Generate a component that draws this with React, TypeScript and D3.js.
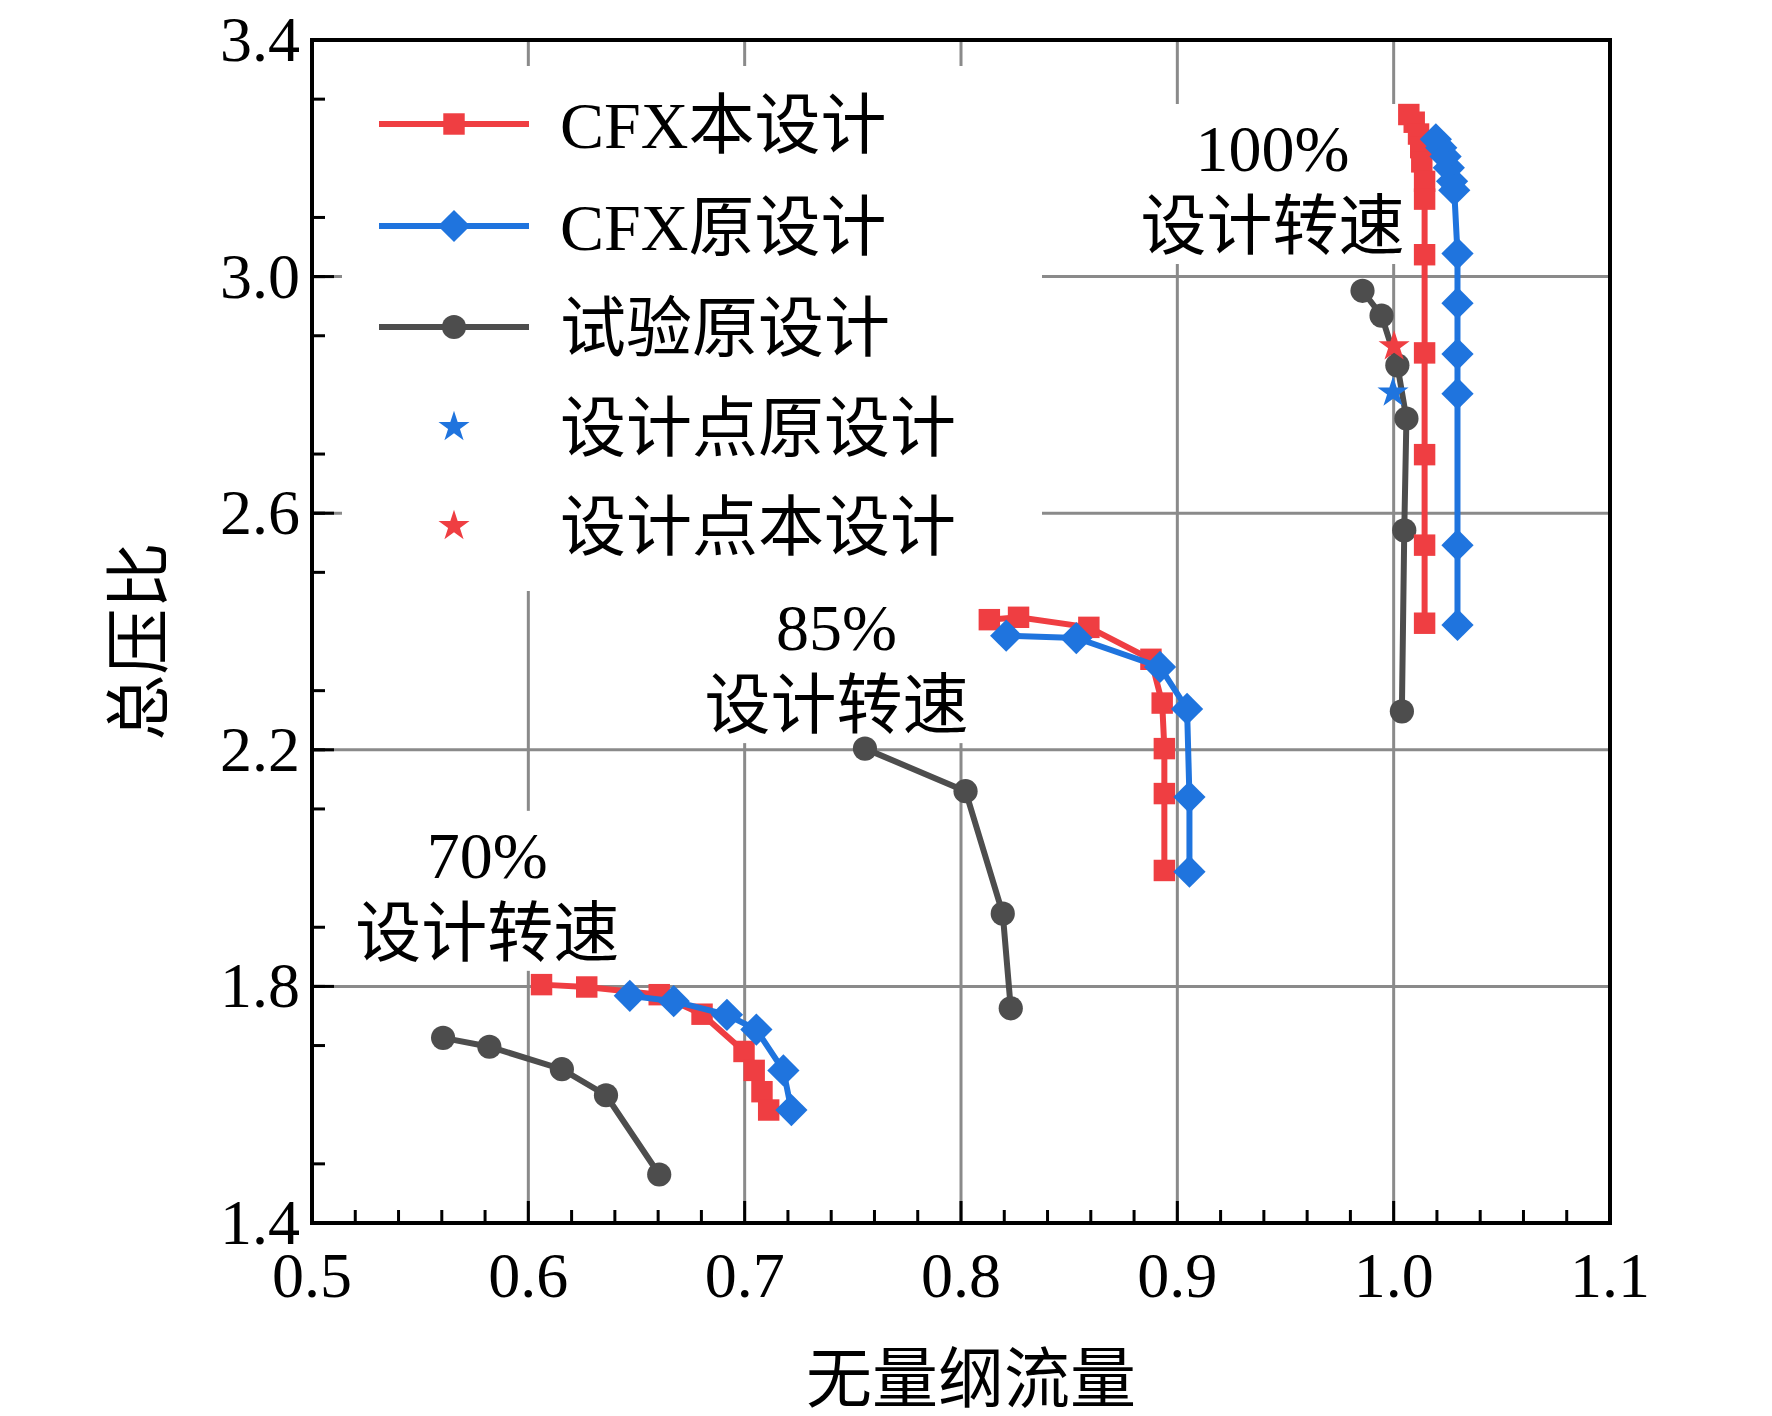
import * as d3 from "d3";

type Pt = [number, number];

// CFX 本设计 (red squares)
const red100: Pt[] = [[1.007, 3.274], [1.0095, 3.261], [1.0115, 3.241], [1.0125, 3.218], [1.013, 3.194], [1.0143, 3.161], [1.0143, 3.131], [1.0143, 3.037], [1.0143, 2.871], [1.0143, 2.699], [1.0143, 2.546], [1.0143, 2.414]];
const red85: Pt[] = [[0.8131, 2.42], [0.8266, 2.424], [0.8591, 2.407], [0.8878, 2.353], [0.893, 2.279], [0.894, 2.202], [0.894, 2.126], [0.894, 1.996]];
const red70: Pt[] = [[0.6061, 1.803], [0.627, 1.799], [0.6605, 1.786], [0.6803, 1.753], [0.6997, 1.69], [0.7044, 1.658], [0.708, 1.622], [0.7111, 1.591]];
// CFX 原设计 (blue diamonds)
const blue100: Pt[] = [[1.0195, 3.232], [1.022, 3.218], [1.024, 3.203], [1.0255, 3.184], [1.027, 3.161], [1.028, 3.146], [1.0295, 3.039], [1.0295, 2.955], [1.0295, 2.869], [1.0295, 2.802], [1.0295, 2.546], [1.0295, 2.411]];
const blue85: Pt[] = [[0.8209, 2.393], [0.8533, 2.389], [0.892, 2.34], [0.9045, 2.269], [0.9056, 2.12], [0.9056, 1.994]];
const blue70: Pt[] = [[0.6469, 1.784], [0.6672, 1.775], [0.6918, 1.752], [0.7054, 1.727], [0.7179, 1.658], [0.7216, 1.591]];
// 试验原设计 (gray circles)
const gray100: Pt[] = [[0.9856, 2.976], [0.9944, 2.934], [1.0017, 2.85], [1.0059, 2.76], [1.0049, 2.571], [1.0038, 2.265]];
const gray85: Pt[] = [[0.7556, 2.202], [0.8021, 2.13], [0.8193, 1.923], [0.823, 1.763]];
const gray70: Pt[] = [[0.5606, 1.713], [0.582, 1.698], [0.6155, 1.66], [0.6359, 1.616], [0.6605, 1.482]];
const starBlue: Pt = [0.9997, 2.804];
const starRed: Pt = [1.0002, 2.882];

const xTicks = [0.5, 0.6, 0.7, 0.8, 0.9, 1.0, 1.1];
const yTicks = [1.4, 1.8, 2.2, 2.6, 3.0, 3.4];
const legendLabels = ["CFX本设计", "CFX原设计", "试验原设计", "设计点原设计", "设计点本设计"];
const speedLabels: { pct: string; x: number; y: number }[] = [
  { pct: "100%", x: 0.944, y: 3.165 },
  { pct: "85%", x: 0.7425, y: 2.355 },
  { pct: "70%", x: 0.581, y: 1.97 },
];

const RED = "#ef3e42";
const BLUE = "#1f74de";
const GRAY = "#4d4d4d";
const FONT = "'Liberation Serif', 'Noto Sans CJK SC', serif";

const W = 1772, H = 1416;
const mL = 312, mR = 1610, mT = 40, mB = 1223;

export default function App() {
  const x = d3.scaleLinear([0.5, 1.1], [mL, mR]);
  const y = d3.scaleLinear([1.4, 3.4], [mB, mT]);
  const line = d3.line<Pt>().x((d) => x(d[0])).y((d) => y(d[1]));
  const sq = d3.symbol(d3.symbolSquare, 460)();
  const dia = d3.symbol(d3.symbolSquare, 520)();
  const circ = d3.symbol(d3.symbolCircle, 460)();
  const star = d3.symbol(d3.symbolStar, 300)();
  const minorX = d3.range(0.52, 1.1, 0.02).filter((v) => Math.abs(v * 10 - Math.round(v * 10)) > 0.01);
  const minorY = d3.range(1.5, 3.4, 0.1).filter((v) => Math.abs(v / 0.4 - Math.round(v / 0.4)) > 0.01);

  const series = (sets: Pt[][], color: string, sym: string | null, rot = 0) =>
    sets.map((s, i) => (
      <g key={i}>
        <path d={line(s) ?? undefined} fill="none" stroke={color} strokeWidth={6} />
        {s.map((d, j) => (
          <path key={j} d={sym ?? undefined} transform={`translate(${x(d[0])},${y(d[1])}) rotate(${rot})`} fill={color} />
        ))}
      </g>
    ));

  const legendY = [124, 226, 327, 427, 526];

  return (
    <svg width={W} height={H} style={{ position: "absolute", left: 0, top: 0, background: "#fff" }} fontFamily={FONT}>
      <rect width={W} height={H} fill="#fff" />
      {/* grid */}
      <g stroke="#8a8a8a" strokeWidth={3}>
        {xTicks.slice(1, -1).map((t) => <line key={t} x1={x(t)} x2={x(t)} y1={mT} y2={mB} />)}
        {yTicks.slice(1, -1).map((t) => <line key={t} x1={mL} x2={mR} y1={y(t)} y2={y(t)} />)}
      </g>
      {/* legend and label backgrounds */}
      <rect x={342} y={66} width={700} height={525} fill="#fff" />
      {speedLabels.map((s) => (
        <rect key={s.pct} x={x(s.x) - 140} y={y(s.y) - 75} width={280} height={160} fill="#fff" />
      ))}
      {/* ticks */}
      <g stroke="#000" strokeWidth={3}>
        {xTicks.map((t) => <line key={t} x1={x(t)} x2={x(t)} y1={mB} y2={mB - 22} />)}
        {minorX.map((t) => <line key={t} x1={x(t)} x2={x(t)} y1={mB} y2={mB - 13} />)}
        {yTicks.map((t) => <line key={t} x1={mL} x2={mL + 22} y1={y(t)} y2={y(t)} />)}
        {minorY.map((t) => <line key={t} x1={mL} x2={mL + 13} y1={y(t)} y2={y(t)} />)}
      </g>
      <rect x={mL} y={mT} width={mR - mL} height={mB - mT} fill="none" stroke="#000" strokeWidth={4} />
      {/* tick labels */}
      <g fontSize={64} fill="#000">
        {xTicks.map((t) => (
          <text key={t} x={x(t)} y={mB + 74} textAnchor="middle">{t.toFixed(1)}</text>
        ))}
        {yTicks.map((t) => (
          <text key={t} x={mL - 12} y={y(t) + 21} textAnchor="end">{t.toFixed(1)}</text>
        ))}
      </g>
      <text x={(mL + mR) / 2 + 10} y={1402} textAnchor="middle" fontSize={66}>无量纲流量</text>
      <text transform={`translate(162,${(mT + mB) / 2 + 10}) rotate(-90)`} textAnchor="middle" fontSize={66}>总压比</text>
      {/* speed labels */}
      {speedLabels.map((s) => (
        <g key={s.pct} fontSize={66} textAnchor="middle">
          <text x={x(s.x)} y={y(s.y) - 8}>{s.pct}</text>
          <text x={x(s.x)} y={y(s.y) + 70}>设计转速</text>
        </g>
      ))}
      {/* data */}
      {series([gray100, gray85, gray70], GRAY, circ)}
      {series([red100, red85, red70], RED, sq)}
      {series([blue100, blue85, blue70], BLUE, dia, 45)}
      <path d={star} transform={`translate(${x(starRed[0])},${y(starRed[1])})`} fill={RED} />
      <path d={star} transform={`translate(${x(starBlue[0])},${y(starBlue[1])})`} fill={BLUE} />
      {/* legend */}
      {legendLabels.map((lab, i) => {
        const ly = legendY[i];
        const c = [RED, BLUE, GRAY, BLUE, RED][i];
        const sym = [sq, dia, circ, star, star][i];
        return (
          <g key={lab}>
            {i < 3 && <line x1={379} x2={529} y1={ly} y2={ly} stroke={c} strokeWidth={6} />}
            <path d={sym} transform={`translate(454,${ly}) rotate(${i === 1 ? 45 : 0})`} fill={c} />
            <text x={560} y={ly + 24} fontSize={66}>{lab}</text>
          </g>
        );
      })}
    </svg>
  );
}
